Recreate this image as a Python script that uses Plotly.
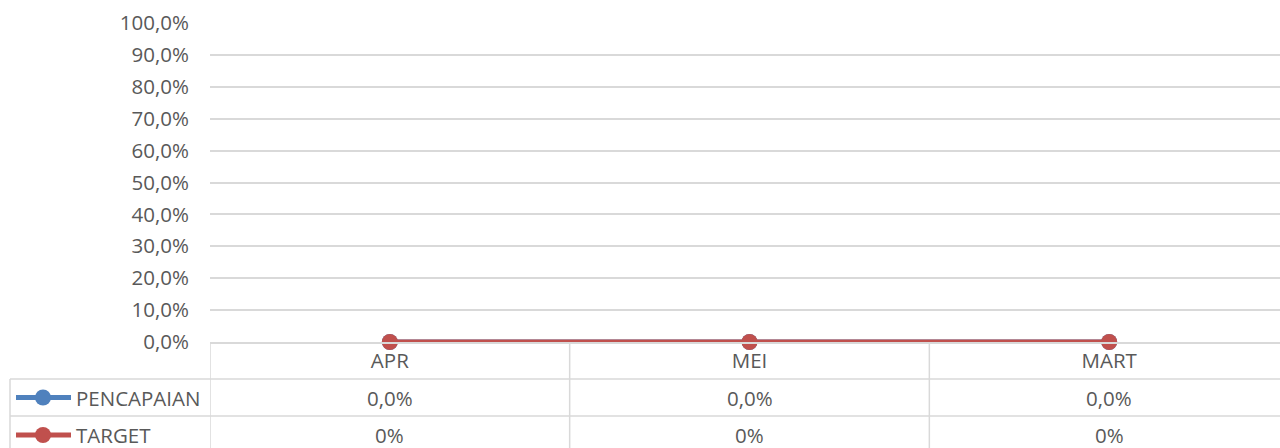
import plotly.graph_objects as go

categories = ["APR", "MEI", "MART"]
pencapaian = [0.0, 0.0, 0.0]
target = [0.0, 0.0, 0.0]
pencapaian_labels = ["0,0%", "0,0%", "0,0%"]
target_labels = ["0%", "0%", "0%"]
series_names = ["PENCAPAIAN", "TARGET"]
y_ticks = [i / 10 for i in range(11)]

W, H = 1280, 448
FONT = "Open Sans"
FS = 20.5
TXT = "#595959"
GRID = "#d9d9d9"
BLUE = "#4F81BD"
RED = "#C0504D"

def py(pix):  # pixel from top -> paper y
    return (H - pix) / H

def px(pix):
    return pix / W

plot_left, plot_top, plot_bottom = 210, 23, 342
cat_w = 359.67
x_end = -0.5 + (W - plot_left) / cat_w

fig = go.Figure()
xi = list(range(len(categories)))
fig.add_trace(go.Scatter(x=xi, y=pencapaian, mode="lines+markers", name=series_names[0],
                         line=dict(color=BLUE, width=5), marker=dict(size=16, color=BLUE),
                         cliponaxis=False, showlegend=False))
fig.add_trace(go.Scatter(x=xi, y=target, mode="lines+markers", name=series_names[1],
                         line=dict(color=RED, width=5), marker=dict(size=16, color=RED),
                         cliponaxis=False, showlegend=False))

shapes = []
# vertical table lines at category boundaries
for b in [i - 0.5 for i in range(len(categories))]:
    shapes.append(dict(type="line", xref="x", yref="paper", x0=b, x1=b,
                       y0=-0.01, y1=py(plot_bottom), line=dict(color=GRID, width=1.5), layer="below"))
# left border
shapes.append(dict(type="line", xref="paper", yref="paper", x0=px(10), x1=px(10),
                   y0=-0.01, y1=py(379), line=dict(color=GRID, width=1.5)))
# horizontal row lines
for ypix in [379, 416]:
    shapes.append(dict(type="line", xref="paper", yref="paper", x0=px(10), x1=1,
                       y0=py(ypix), y1=py(ypix), line=dict(color=GRID, width=1.5)))

annotations = []
rows = [(series_names[0], BLUE, pencapaian_labels, 397.5),
        (series_names[1], RED, target_labels, 435)]
for name, col, labels, ypix in rows:
    # legend key
    shapes.append(dict(type="line", xref="paper", yref="paper", x0=px(16), x1=px(71),
                       y0=py(ypix), y1=py(ypix), line=dict(color=col, width=5)))
    shapes.append(dict(type="circle", xref="paper", yref="paper", x0=px(35), x1=px(51),
                       y0=py(ypix + 8), y1=py(ypix - 8), fillcolor=col, line=dict(color=col, width=0)))
    annotations.append(dict(text=name, xref="paper", yref="paper", x=px(74), y=py(ypix),
                            xanchor="left", yanchor="middle", showarrow=False,
                            font=dict(family=FONT, size=FS, color=TXT)))
    for i, lab in enumerate(labels):
        annotations.append(dict(text=lab, xref="x", yref="paper", x=i, y=py(ypix),
                                xanchor="center", yanchor="middle", showarrow=False,
                                font=dict(family=FONT, size=FS, color=TXT)))

fig.update_layout(
    width=W, height=H,
    margin=dict(l=0, r=0, t=0, b=0, autoexpand=False),
    paper_bgcolor="white", plot_bgcolor="white",
    separators=",.",
    showlegend=False,
    shapes=shapes,
    annotations=annotations,
    xaxis=dict(domain=[px(plot_left), 1], range=[-0.5, x_end], automargin=False,
               tickmode="array", tickvals=xi, ticktext=categories,
               showgrid=False, zeroline=False, showline=True, linecolor=GRID, linewidth=1.5,
               ticks="", tickfont=dict(family=FONT, size=FS, color=TXT)),
    yaxis=dict(domain=[py(plot_bottom), py(plot_top)], range=[0, 1], automargin=False,
               tickvals=y_ticks, tickformat=".1%",
               showgrid=True, gridcolor=GRID, gridwidth=1.5, zeroline=False,
               showline=False, ticks="", ticklabelstandoff=20,
               tickfont=dict(family=FONT, size=FS, color=TXT)),
)

fig.write_html("out.html", config={"displayModeBar": False},
               post_script="document.body.style.margin='0';document.body.style.overflow='hidden';")
